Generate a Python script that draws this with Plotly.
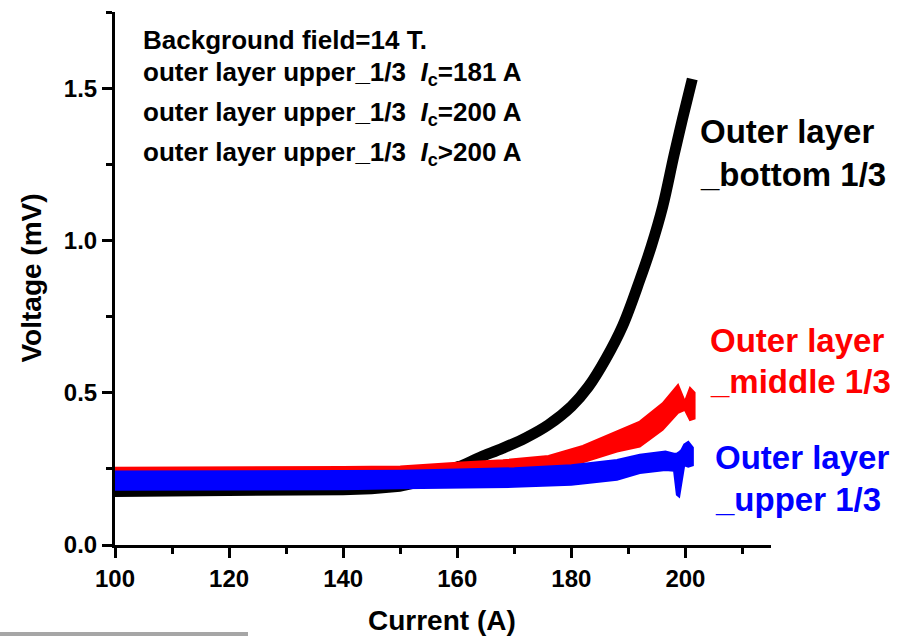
import plotly.graph_objects as go

# ---------------- data ----------------
# Outer layer _bottom 1/3 (black): noisy flat band + rising branch (centre line)
black_band_x = [100, 110, 120, 130, 140, 145, 150, 153, 156, 158, 160]
black_band_lo = [0.161, 0.162, 0.163, 0.165, 0.167, 0.170, 0.178, 0.190, 0.205, 0.220, 0.232]
black_band_hi = [0.225, 0.226, 0.227, 0.228, 0.230, 0.232, 0.236, 0.240, 0.248, 0.258, 0.272]
black_rise_x = [158, 160, 164, 168, 172, 176, 180, 183, 186, 189, 192, 194, 196, 198, 199.5, 201.2]
black_rise_v = [0.245, 0.255, 0.288, 0.318, 0.352, 0.395, 0.455, 0.520, 0.610, 0.720, 0.870, 0.980, 1.110, 1.280, 1.400, 1.530]

# Outer layer _middle 1/3 (red): band envelope
red_x = [100, 120, 140, 150, 160, 168, 176, 182, 188, 192, 196, 198.7, 199.9, 200.8, 201.6]
red_lo = [0.205, 0.206, 0.207, 0.210, 0.222, 0.232, 0.246, 0.272, 0.307, 0.323, 0.378, 0.434, 0.444, 0.410, 0.415]
red_hi = [0.254, 0.255, 0.256, 0.258, 0.270, 0.278, 0.292, 0.325, 0.373, 0.405, 0.465, 0.526, 0.471, 0.516, 0.500]

# Outer layer _upper 1/3 (blue): band envelope
blue_x = [100, 120, 140, 150, 160, 170, 180, 188, 192, 196.5, 198.0, 198.5, 198.9, 199.3, 199.8, 200.5, 201.3]
blue_lo = [0.181, 0.182, 0.183, 0.186, 0.188, 0.191, 0.198, 0.214, 0.236, 0.246, 0.244, 0.165, 0.159, 0.200, 0.262, 0.257, 0.262]
blue_hi = [0.241, 0.242, 0.243, 0.244, 0.248, 0.252, 0.262, 0.279, 0.296, 0.307, 0.300, 0.300, 0.305, 0.312, 0.330, 0.339, 0.320]

info_lines = [
    "Background field=14 T.",
    "outer layer upper_1/3\u00a0\u00a0<i>I</i><sub>c</sub>=181 A",
    "outer layer upper_1/3\u00a0\u00a0<i>I</i><sub>c</sub>=200 A",
    "outer layer upper_1/3\u00a0\u00a0<i>I</i><sub>c</sub>>200 A",
]
series_labels = [
    ("Outer layer", "_bottom 1/3", "#000000"),
    ("Outer layer", "_middle 1/3", "#ff0000"),
    ("Outer layer", "_upper 1/3", "#0000ff"),
]
x_title = "Current (A)"
y_title = "Voltage (mV)"

# ---------------- figure ----------------
W, H = 899, 636
L, R, T, B = 115, 771, 12, 545
FONT = "Liberation Sans, Arial, sans-serif"


def paper(xp, yp):
    return (xp - L) / (R - L), (B - yp) / (B - T)


def band(x, lo, hi, color):
    return go.Scatter(
        x=list(x) + list(x)[::-1],
        y=list(lo) + list(hi)[::-1],
        fill="toself", fillcolor=color, mode="lines",
        line=dict(color=color, width=2), hoverinfo="skip", showlegend=False,
    )


fig = go.Figure()
fig.add_trace(band(black_band_x, black_band_lo, black_band_hi, "#000000"))
fig.add_trace(go.Scatter(x=black_rise_x, y=black_rise_v, mode="lines",
                         line=dict(color="#000000", width=11, shape="spline"),
                         showlegend=False, hoverinfo="skip"))
fig.add_trace(band(red_x, red_lo, red_hi, "#ff0000"))
fig.add_trace(band(blue_x, blue_lo, blue_hi, "#0000ff"))

axis_common = dict(
    showline=True, linewidth=3, linecolor="black", showgrid=False, zeroline=False,
    ticks="outside", ticklen=10, tickwidth=3, tickcolor="black", automargin=False,
    tickfont=dict(family=FONT, size=24, color="black", weight="bold"),
)
fig.update_xaxes(range=[100, 215], tick0=100, dtick=20,
                 minor=dict(dtick=10, ticks="outside", ticklen=6, tickwidth=3, tickcolor="black"),
                 **axis_common)
fig.update_yaxes(range=[0, 1.75], tick0=0, dtick=0.5, tickformat=".1f",
                 minor=dict(dtick=0.25, ticks="outside", ticklen=6, tickwidth=3, tickcolor="black"),
                 **axis_common)

ann = []
tx, ty = paper(442, 620)
ann.append(dict(x=tx, y=ty, xref="paper", yref="paper", xanchor="center", yanchor="middle",
                text="<b>" + x_title + "</b>", showarrow=False,
                font=dict(family=FONT, size=28, color="black")))
tx, ty = paper(31, 278.5)
ann.append(dict(x=tx, y=ty, xref="paper", yref="paper", xanchor="center", yanchor="middle",
                text="<b>" + y_title + "</b>", showarrow=False, textangle=-90,
                font=dict(family=FONT, size=28, color="black")))

info_y = [39.5, 74, 113, 154]
for txt, yp in zip(info_lines, info_y):
    px_, py_ = paper(141, yp)
    ann.append(dict(x=px_, y=py_, xref="paper", yref="paper", xanchor="left", yanchor="middle",
                    text="<b>" + txt + "</b>", showarrow=False,
                    font=dict(family=FONT, size=26, color="black")))

label_pos = [(698, 131, 175), (708, 340, 381), (713, 457, 499)]
for (l1, l2, col), (xp, y1, y2) in zip(series_labels, label_pos):
    for txt, yp in ((l1, y1), (l2, y2)):
        px_, py_ = paper(xp, yp)
        ann.append(dict(x=px_, y=py_, xref="paper", yref="paper", xanchor="left", yanchor="middle",
                        text="<b>" + txt + "</b>", showarrow=False,
                        font=dict(family=FONT, size=33, color=col)))

x0, y0 = paper(0, 632)
x1, y1 = paper(248, 636)
fig.update_layout(
    width=W, height=H, margin=dict(l=L, r=W - R, t=T, b=H - B, autoexpand=False),
    paper_bgcolor="white", plot_bgcolor="white", showlegend=False,
    annotations=ann,
    shapes=[dict(type="rect", xref="paper", yref="paper", x0=x0, x1=x1, y0=y0, y1=y1,
                 fillcolor="#a6a6a6", line=dict(width=0), layer="above")],
)
fig.write_html("out.html")
